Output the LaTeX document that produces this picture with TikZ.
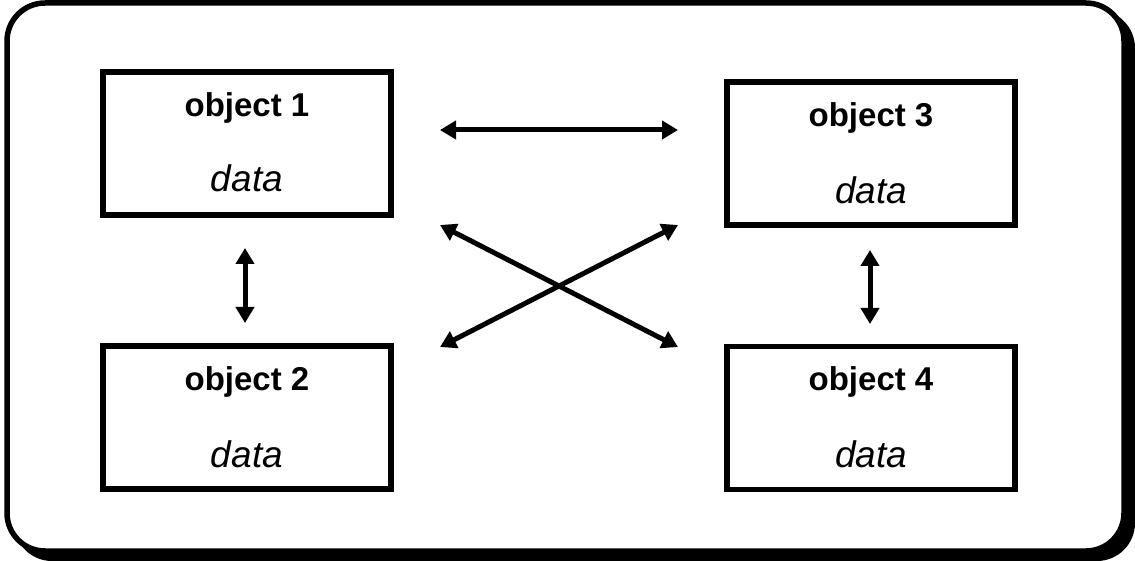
\documentclass[tikz,border=0pt]{standalone}
\usepackage{fontspec}
\setmainfont{Liberation Sans}
\usetikzlibrary{arrows.meta}
\begin{document}
\begin{tikzpicture}[x=1pt,y=-1pt,
  frame/.style={draw=black,line width=5.5pt,rounded corners=38pt,fill=white},
  shadowbox/.style={fill=black,rounded corners=38pt},
  objbox/.style={draw=black,line width=5.5pt,rectangle,minimum width=288pt,minimum height=143pt,inner sep=0pt},
  objtitle/.style={anchor=base,font=\fontsize{33}{36}\selectfont\bfseries,inner sep=0pt},
  objdata/.style={anchor=base,font=\fontsize{37}{40}\selectfont\itshape,inner sep=0pt},
  link/.style={line width=5pt,{Triangle[length=16pt,width=18pt]}-{Triangle[length=16pt,width=18pt]}}]
\useasboundingbox (0,0) rectangle (1135,561);
\fill[white] (0,0) rectangle (1135,561);
% outer frame with shadow
\path[shadowbox] (14,10) rectangle (1135,561);
\path[frame] (7,3) rectangle (1124,551);
% boxes
\node[objbox] (b1) at (247,143.5) {};
\node[objbox] (b2) at (247,417.5) {};
\node[objbox] (b3) at (871,153.5) {};
\node[objbox] (b4) at (871,418) {};
% texts
\node[objtitle] (t1) at (247,117) {object 1};
\node[objdata]  (d1) at (247,192) {data};
\node[objtitle] (t2) at (247,390) {object 2};
\node[objdata]  (d2) at (247,467) {data};
\node[objtitle] (t3) at (871,127) {object 3};
\node[objdata]  (d3) at (871,204) {data};
\node[objtitle] (t4) at (871,390) {object 4};
\node[objdata]  (d4) at (871,467) {data};
% connector end points
\coordinate (h1) at (440,130);
\coordinate (h2) at (678,130);
\coordinate (x1) at (440,225);
\coordinate (x2) at (678,347);
\coordinate (x3) at (678,225);
\coordinate (x4) at (440,347);
\coordinate (v1) at (245,248);
\coordinate (v2) at (245,323);
\coordinate (v3) at (870,250);
\coordinate (v4) at (870,324);
\draw[link] (h1) -- (h2);
\draw[link] (x1) -- (x2);
\draw[link] (x3) -- (x4);
\draw[link] (v1) -- (v2);
\draw[link] (v3) -- (v4);
\end{tikzpicture}
\end{document}
